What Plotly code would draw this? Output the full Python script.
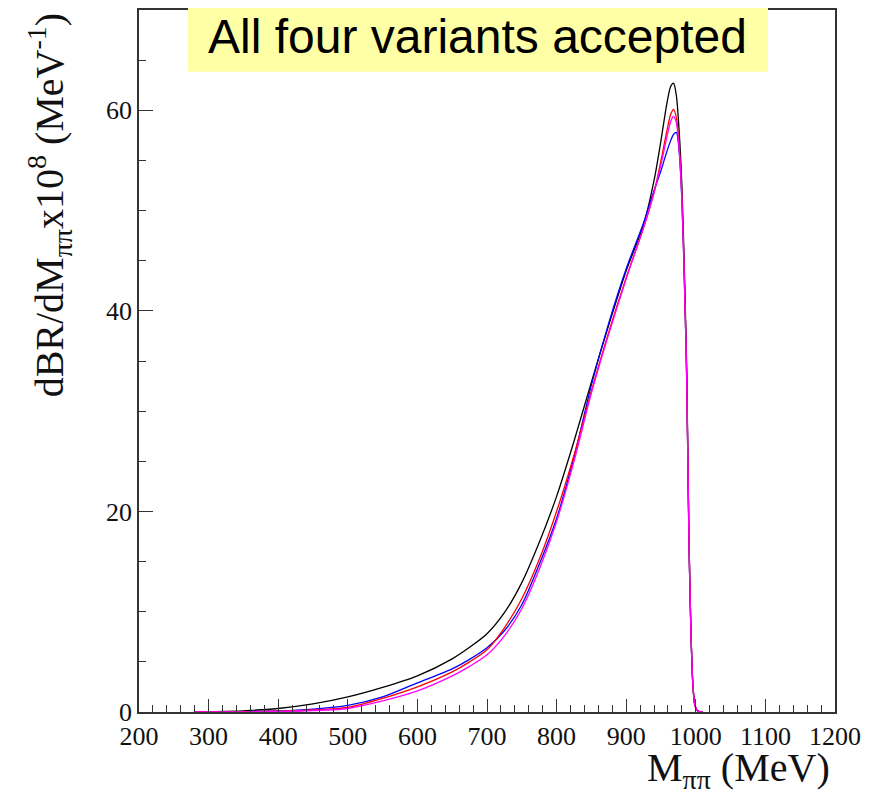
import plotly.graph_objects as go

# M_pipi grid (MeV)
mass = [280, 300, 350, 400, 450, 500, 550, 600, 650, 675, 700, 725, 750, 775, 800, 825,
        850, 875, 900, 925, 940, 950, 958, 964, 968, 972, 976, 980, 984, 987, 990,
        993, 996, 999, 1003, 1010]

black = [0, 0.03, 0.12, 0.35, 0.8, 1.5, 2.45, 3.6, 5.3, 6.45, 7.8, 9.9, 12.9, 16.9, 21.5, 27.0,
         32.9, 38.6, 44.0, 48.6, 53.0, 57.0, 60.5, 62.4, 62.7, 61.5, 58.0, 52.5, 43, 34, 18,
         8, 2.5, 0.6, 0.1, 0]
blue = [0, 0.01, 0.04, 0.1, 0.28, 0.65, 1.5, 2.9, 4.3, 5.25, 6.4, 8.1, 10.7, 14.7, 19.3, 25.4,
        32.6, 38.8, 44.2, 48.8, 52.0, 54.0, 55.8, 57.0, 57.6, 57.8, 56.0, 51.0, 42, 33, 18,
        8, 2.5, 0.6, 0.1, 0]
red = [0, 0.01, 0.03, 0.08, 0.2, 0.45, 1.35, 2.5, 4.0, 5.0, 6.2, 8.4, 11.3, 15.2, 20.0, 25.6,
       32.0, 37.9, 43.3, 48.3, 51.8, 55.0, 57.8, 59.6, 60.1, 59.3, 56.5, 51.5, 42, 33, 18,
       8, 2.5, 0.6, 0.1, 0]
magenta = [0, 0.005, 0.02, 0.06, 0.15, 0.35, 1.1, 2.1, 3.6, 4.55, 5.7, 7.6, 10.3, 14.2, 19.0, 25.0,
           31.8, 37.7, 43.2, 48.3, 51.8, 54.6, 57.2, 58.9, 59.4, 58.8, 56.2, 51.3, 42, 33, 18,
           8, 2.5, 0.6, 0.1, 0]

series = [("black", black, "#000000"), ("blue", blue, "#0000FF"),
          ("red", red, "#FF0000"), ("magenta", magenta, "#FF00FF")]

x_ticks = [200, 300, 400, 500, 600, 700, 800, 900, 1000, 1100, 1200]
y_ticks = [0, 20, 40, 60]

fig = go.Figure()
for name, vals, col in series:
    fig.add_trace(go.Scatter(x=mass, y=vals, mode="lines", name=name,
                             line=dict(color=col, width=1.3, shape="spline", smoothing=0.8)))

serif = "Liberation Serif"
fig.update_layout(
    width=878, height=800,
    margin=dict(l=131, r=51, t=0, b=96),
    paper_bgcolor="white", plot_bgcolor="white",
    showlegend=False,
    font=dict(family=serif, color="#111", size=26),
)
fig.update_xaxes(range=[200, 1200], tickvals=x_ticks, ticks="inside", ticklen=13,
                 tickcolor="#333", tickwidth=1.3,
                 minor=dict(dtick=20, ticks="inside", ticklen=7, tickcolor="#333", tickwidth=1.3),
                 showline=True, linecolor="#333", linewidth=1.5, mirror=True,
                 showgrid=False, zeroline=False, tickfont=dict(family=serif, size=26))
fig.update_yaxes(range=[0, 70], tickvals=y_ticks, ticks="inside", ticklen=14,
                 tickcolor="#333", tickwidth=1.3,
                 minor=dict(dtick=5, ticks="inside", ticklen=7, tickcolor="#333", tickwidth=1.3),
                 showline=True, linecolor="#333", linewidth=1.5, mirror=True,
                 showgrid=False, zeroline=False, tickfont=dict(family=serif, size=26))

# yellow title box
fig.add_shape(type="rect", xref="paper", yref="paper", x0=0.0704, x1=0.9037,
              y0=0.912, y1=1.02, fillcolor="#FFFFA5", line=dict(width=0), layer="above")
fig.add_annotation(xref="paper", yref="paper", x=0.487, y=0.9616, text="All four variants accepted",
                   showarrow=False, font=dict(family="Liberation Sans", size=48, color="black"),
                   xanchor="center", yanchor="middle")

# axis titles
fig.add_annotation(xref="paper", yref="paper", x=0.9957, y=-0.082,
                   text="M<sub>ππ</sub> (MeV)", showarrow=False,
                   font=dict(family=serif, size=40, color="#111"),
                   xanchor="right", yanchor="middle")
fig.add_annotation(xref="paper", yref="paper", x=-0.128, y=0.723,
                   text="dBR/dM<sub>ππ</sub>x10<sup>8</sup> (MeV<sup>-1</sup>)", showarrow=False,
                   textangle=-90, font=dict(family=serif, size=40, color="#111"),
                   xanchor="center", yanchor="middle")

fig.write_html("out.html")
